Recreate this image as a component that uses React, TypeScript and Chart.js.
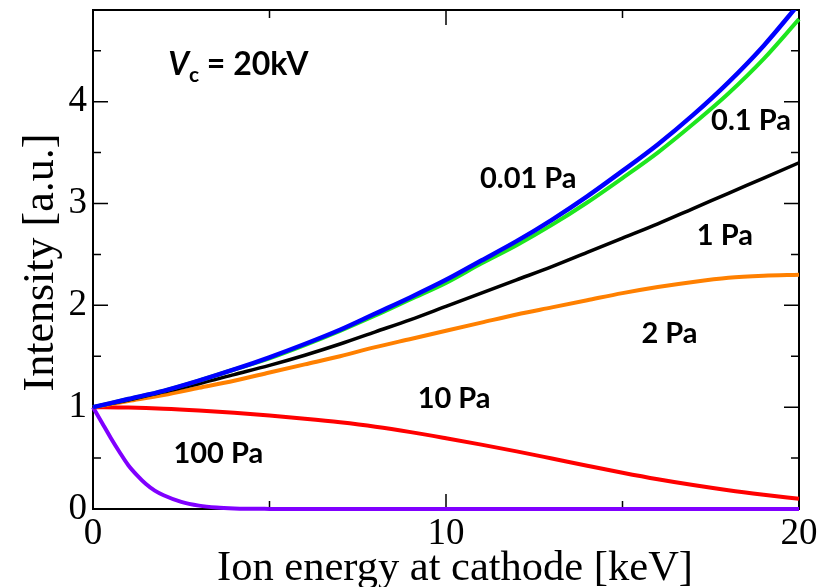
import React, { useEffect, useRef } from 'react';
import { Chart, registerables } from 'chart.js';

Chart.register(...registerables);

// Ion energy at cathode [keV]
const ENERGY = [0, 1, 2, 3, 4, 5, 6, 7, 8, 9, 10, 11, 12, 13, 14, 15, 16, 17, 18, 19, 20];
// Intensity [a.u.] per pressure
const P_001 = [1.0, 1.08, 1.16, 1.26, 1.37, 1.49, 1.62, 1.76, 1.92, 2.08, 2.25, 2.44, 2.63, 2.84, 3.07, 3.32, 3.58, 3.87, 4.19, 4.55, 4.96];
const P_01 = [1.0, 1.08, 1.16, 1.26, 1.37, 1.48, 1.61, 1.75, 1.9, 2.06, 2.22, 2.41, 2.59, 2.79, 3.01, 3.25, 3.5, 3.78, 4.08, 4.42, 4.81];
const P_1 = [1.0, 1.07, 1.15, 1.23, 1.32, 1.41, 1.51, 1.62, 1.74, 1.86, 1.99, 2.12, 2.25, 2.38, 2.52, 2.66, 2.8, 2.95, 3.1, 3.25, 3.4];
const P_2 = [1.0, 1.06, 1.12, 1.19, 1.26, 1.34, 1.42, 1.5, 1.59, 1.67, 1.75, 1.83, 1.91, 1.98, 2.05, 2.12, 2.18, 2.23, 2.27, 2.29, 2.3];
const P_10 = [1.0, 0.996, 0.985, 0.967, 0.944, 0.917, 0.886, 0.851, 0.808, 0.755, 0.695, 0.632, 0.566, 0.496, 0.425, 0.356, 0.292, 0.235, 0.184, 0.14, 0.1];
const ENERGY_100 = [0, 0.25, 0.5, 0.75, 1, 1.25, 1.5, 1.75, 2, 2.5, 3, 3.5, 4, 5, 6, 8, 10, 12, 14, 16, 18, 20];
const P_100 = [1.0, 0.85, 0.7, 0.56, 0.43, 0.33, 0.245, 0.18, 0.135, 0.07, 0.033, 0.014, 0.006, 0.001, 0, 0, 0, 0, 0, 0, 0, 0];

// Axis ticks
const X_MAJOR = [0, 10, 20];
const X_MINOR = [5, 15];
const Y_MAJOR = [0, 1, 2, 3, 4];
const Y_MINOR = [0.5, 1.5, 2.5, 3.5, 4.5];

// Curve labels (anchored in data units)
const LABEL_TEXT = ['0.01 Pa', '0.1 Pa', '1 Pa', '2 Pa', '10 Pa', '100 Pa'];
const LABEL_X = [12.33, 18.64, 17.9, 16.33, 10.23, 3.55];
const LABEL_Y = [3.26, 3.82, 2.7, 1.73, 1.09, 0.55];

const X_TITLE = 'Ion energy at cathode [keV]';
const Y_TITLE = 'Intensity [a.u.]';

const SERIF = '"Liberation Serif", "Times New Roman", serif';
const SANS = 'Lato, "Open Sans", sans-serif';

const pts = (xs: number[], ys: number[]) => xs.map((x, i) => ({ x, y: ys[i] }));

const framePlugin = {
  id: 'frame',
  beforeDatasetsDraw(chart: any) {
    const { ctx, chartArea: a, scales } = chart;
    const xs = scales.x;
    const ys = scales.y;
    ctx.save();
    ctx.strokeStyle = '#000';
    ctx.lineWidth = 2;
    ctx.strokeRect(a.left, a.top, a.right - a.left, a.bottom - a.top);
    ctx.lineWidth = 1.5;
    ctx.beginPath();
    const MAJ = 15;
    const MIN = 8;
    const xt = (v: number, len: number) => {
      const p = xs.getPixelForValue(v);
      ctx.moveTo(p, a.bottom);
      ctx.lineTo(p, a.bottom - len);
      ctx.moveTo(p, a.top);
      ctx.lineTo(p, a.top + len);
    };
    const yt = (v: number, len: number) => {
      const p = ys.getPixelForValue(v);
      ctx.moveTo(a.left, p);
      ctx.lineTo(a.left + len, p);
      ctx.moveTo(a.right, p);
      ctx.lineTo(a.right - len, p);
    };
    X_MAJOR.forEach((v) => xt(v, MAJ));
    X_MINOR.forEach((v) => xt(v, MIN));
    Y_MAJOR.forEach((v) => yt(v, MAJ));
    Y_MINOR.forEach((v) => yt(v, MIN));
    ctx.stroke();
    ctx.restore();
  },
  afterDatasetsDraw(chart: any) {
    const { ctx, chartArea: a, scales } = chart;
    const xs = scales.x;
    const ys = scales.y;
    ctx.save();
    ctx.fillStyle = '#000';
    // curve labels
    ctx.font = `bold 29px ${SANS}`;
    ctx.textAlign = 'center';
    ctx.textBaseline = 'alphabetic';
    LABEL_TEXT.forEach((t, i) => {
      const px = xs.getPixelForValue(LABEL_X[i]);
      const py = ys.getPixelForValue(LABEL_Y[i]);
      ctx.fillText(t, px, py + 10.5);
    });
    // Vc = 20kV
    let vx = xs.getPixelForValue(2.13);
    const vy = ys.getPixelForValue(4.26);
    ctx.textAlign = 'left';
    ctx.font = `italic bold 32px ${SANS}`;
    ctx.fillText('V', vx, vy);
    vx += ctx.measureText('V').width;
    ctx.font = `bold 21px ${SANS}`;
    ctx.fillText('c', vx, vy + 7);
    vx += ctx.measureText('c').width;
    ctx.font = `bold 32px ${SANS}`;
    ctx.fillText(' = 20kV', vx, vy);
    // axis titles
    ctx.font = `42.5px ${SERIF}`;
    ctx.textAlign = 'center';
    ctx.fillText(X_TITLE, (a.left + a.right) / 2 + 9, a.bottom + 71);
    ctx.font = `44px ${SERIF}`;
    ctx.translate(53, (a.top + a.bottom) / 2 + 3);
    ctx.rotate(-Math.PI / 2);
    ctx.fillText(Y_TITLE, 0, 0);
    ctx.restore();
  },
};

export default function App() {
  const ref = useRef<HTMLCanvasElement | null>(null);
  useEffect(() => {
    if (!ref.current) return;
    const line = (data: any, color: string, width: number) => ({
      data,
      borderColor: color,
      backgroundColor: color,
      borderWidth: width,
      pointRadius: 0,
      fill: false,
      cubicInterpolationMode: 'monotone' as const,
      clip: { left: 4, top: 0, right: 4, bottom: 4 },
    });
    const chart = new Chart(ref.current, {
      type: 'line',
      data: {
        datasets: [
          line(pts(ENERGY, P_001), '#0000ff', 4.5),
          line(pts(ENERGY, P_01), '#1ee61e', 4),
          line(pts(ENERGY, P_1), '#000000', 3.5),
          line(pts(ENERGY, P_2), '#ff8000', 4),
          line(pts(ENERGY, P_10), '#ff0000', 4),
          line(pts(ENERGY_100, P_100), '#8000ff', 4),
        ] as any,
      },
      options: {
        responsive: false,
        maintainAspectRatio: false,
        animation: false,
        layout: { padding: { top: 10, right: 32, left: 0, bottom: 0 } },
        plugins: { legend: { display: false }, tooltip: { enabled: false } },
        scales: {
          x: {
            type: 'linear',
            min: 0,
            max: 20,
            grid: { display: false, drawTicks: false },
            border: { display: false },
            afterBuildTicks: (s: any) => {
              s.ticks = X_MAJOR.map((v) => ({ value: v }));
            },
            afterFit: (s: any) => {
              s.height = 78;
              s.paddingLeft = 0;
              s.paddingRight = 0;
            },
            ticks: {
              autoSkip: false,
              maxRotation: 0,
              padding: 3,
              color: '#000',
              font: { family: SERIF, size: 37 },
            },
          },
          y: {
            type: 'linear',
            min: 0,
            max: 4.9,
            grid: { display: false, drawTicks: false },
            border: { display: false },
            afterBuildTicks: (s: any) => {
              s.ticks = Y_MAJOR.map((v) => ({ value: v }));
            },
            afterFit: (s: any) => {
              s.width = 93;
              s.paddingTop = 0;
              s.paddingBottom = 0;
            },
            ticks: {
              autoSkip: false,
              padding: 6,
              color: '#000',
              font: { family: SERIF, size: 37 },
            },
          },
        },
      } as any,
      plugins: [framePlugin],
    });
    return () => chart.destroy();
  }, []);
  return (
    <div style={{ position: 'fixed', left: 0, top: 0, width: 831, height: 587, background: '#fff' }}>
      <canvas ref={ref} width={831} height={587} style={{ display: 'block' }} />
    </div>
  );
}
